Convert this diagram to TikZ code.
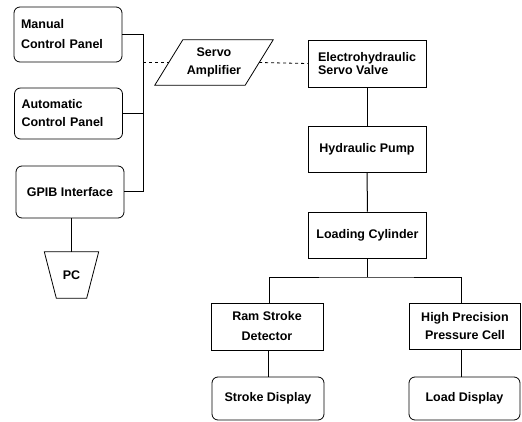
\documentclass[tikz,border=0pt]{standalone}
\usepackage{fontspec}
\setmainfont{Liberation Sans}
\begin{document}
\begin{tikzpicture}[x=1pt,y=-1pt,
    every node/.style={font=\bfseries\fontsize{12.5}{20}\selectfont, inner sep=3pt},
    unitbox/.style={draw, line width=0.8pt, minimum width=#1},
    unitbox/.default=118,
    roundbox/.style={unitbox=#1, rounded corners=6pt},
    roundbox/.default=108,
    outline/.style={line width=0.8pt},
    link/.style={line width=1pt},
    signal/.style={line width=0.8pt, dashed}]
    \useasboundingbox (0,0) rectangle (522,422);

    % control side
    \node[roundbox, minimum height=55, text width=94, align=left] (manual) at (68,34.5) {Manual\\Control Panel};
    \node[roundbox, minimum height=51, text width=94, align=left, font=\bfseries\fontsize{12.5}{18}\selectfont] (automatic) at (68.5,113.5) {Automatic\\Control Panel};
    \node[roundbox, minimum height=52] (gpib) at (70,192) {GPIB Interface};
    \node[minimum width=42, minimum height=46] (pc) at (71.5,275) {PC};
    \draw[outline] ([xshift=-6]pc.north west) -- ([xshift=6]pc.north east)
        -- ([xshift=-6]pc.south east) -- ([xshift=6]pc.south west) -- cycle;

    % servo amplifier
    \node[minimum width=90, minimum height=45, align=center,
          font=\bfseries\fontsize{12.5}{18}\selectfont] (amplifier) at (214,62.5) {Servo\\Amplifier};
    \draw[outline] ([xshift=14]amplifier.north west) -- ([xshift=14]amplifier.north east)
        -- ([xshift=-14]amplifier.south east) -- ([xshift=-14]amplifier.south west) -- cycle;

    % hydraulic chain
    \node[unitbox, minimum height=47, align=left, font=\bfseries\fontsize{12.5}{13.5}\selectfont] (valve) at (367,63.5) {Electrohydraulic\\Servo Valve};
    \node[unitbox, minimum height=46] (pump) at (367,149) {Hydraulic Pump};
    \node[unitbox, minimum height=46] (cylinder) at (367.5,235) {Loading Cylinder};
    \node[unitbox=112, minimum height=47, align=center] (ram) at (267,326.5) {Ram Stroke\\Detector};
    \node[unitbox=111, minimum height=46, align=center, font=\bfseries\fontsize{12.5}{18}\selectfont] (cell) at (465,326) {High Precision\\Pressure Cell};
    \node[roundbox=112, minimum height=43] (strokedisp) at (268,398.5) {Stroke Display};
    \node[roundbox=111, minimum height=43] (loaddisp) at (464.5,398.5) {Load Display};

    % connections
    \coordinate (bus) at (143,62.5);
    \draw[link] (manual.east) -| (bus);
    \draw[link] (automatic.east) -| (bus);
    \draw[link] (gpib.east) -| (bus);
    \draw[link] (gpib.south -| pc.north) -- (pc.north);
    \draw[signal] (bus) -- (amplifier.west);
    \draw[signal] (amplifier.east) -- (valve.west);
    \draw[link] (valve) -- (pump);
    \draw[link] (pump) -- (cylinder);
    \coordinate (split) at (367.5,277);
    \draw[link] (cylinder) -- (split);
    \draw[link] (ram.north -| 269,0) |- (split) -| (cell.north -| 461,0);
    \draw[link] (ram.south -| 268,0) -- (strokedisp.north -| 268,0);
    \draw[link] (cell.south -| 461,0) -- (loaddisp.north -| 461,0);
\end{tikzpicture}
\end{document}
